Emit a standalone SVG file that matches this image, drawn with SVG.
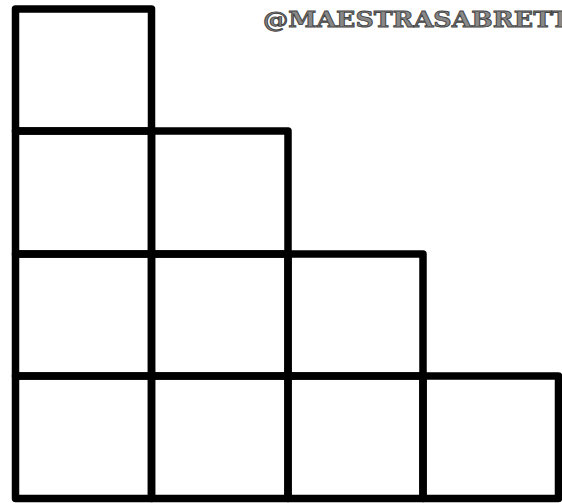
<svg xmlns="http://www.w3.org/2000/svg" width="562" height="503" viewBox="0 0 562 503">
<style>
.cell{fill:none;stroke:#000;stroke-width:7.5;stroke-linejoin:round;stroke-linecap:square}
.wm{font-family:"DejaVu Serif","Liberation Serif",serif;font-weight:bold;font-size:22px;fill:#888;stroke:#444;stroke-width:0.9}
</style>
<rect width="562" height="503" fill="#fff"/>
<g id="watermark"><text class="wm" x="263" y="27" textLength="307" lengthAdjust="spacingAndGlyphs">@MAESTRASABRETT</text></g>
<g id="row1"><rect id="c11" class="cell" x="15.5" y="9" width="136" height="122"/></g>
<g id="row2">
<rect id="c21" class="cell" x="15.5" y="131" width="136" height="123"/>
<rect id="c22" class="cell" x="151.5" y="131" width="136.5" height="123"/>
</g>
<g id="row3">
<rect id="c31" class="cell" x="15.5" y="254" width="136" height="122"/>
<rect id="c32" class="cell" x="151.5" y="254" width="136.5" height="122"/>
<rect id="c33" class="cell" x="288" y="254" width="135" height="122"/>
</g>
<g id="row4">
<rect id="c41" class="cell" x="15.5" y="376" width="136" height="122.5"/>
<rect id="c42" class="cell" x="151.5" y="376" width="136.5" height="122.5"/>
<rect id="c43" class="cell" x="288" y="376" width="135" height="122.5"/>
<rect id="c44" class="cell" x="423" y="376" width="135.5" height="122.5"/>
</g>
</svg>
